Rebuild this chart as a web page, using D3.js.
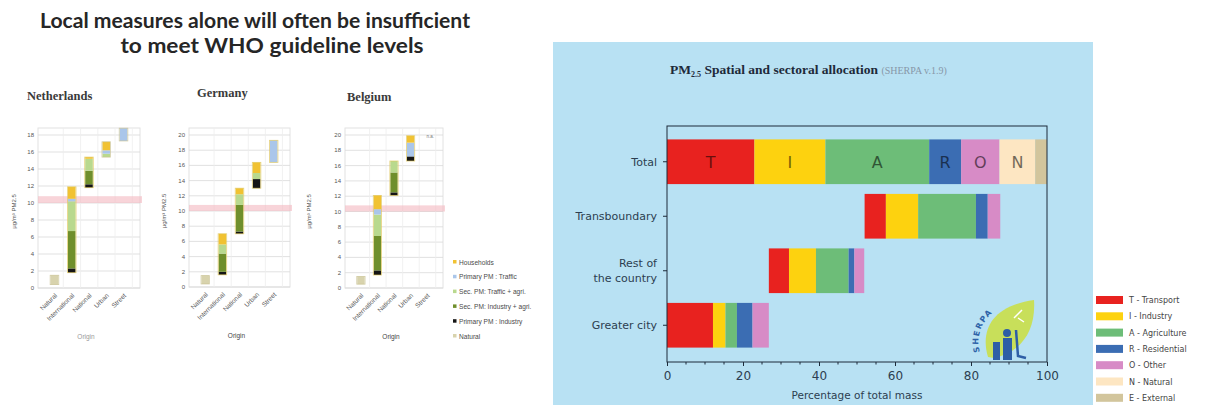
<!DOCTYPE html>
<html>
<head>
<meta charset="utf-8">
<script src="https://cdn.jsdelivr.net/npm/d3@7"></script>
<style>
  body { margin: 0; background: #fff; }
  svg { display: block; }
</style>
</head>
<body>
<svg id="chart" width="1208" height="405"></svg>
<script>
// ---------- left: waterfall charts per country ----------
const origins = ['Natural', 'International', 'National', 'Urban', 'Street'];
const sources = ['Natural', 'Primary PM : Industry', 'Sec. PM: Industry + agri.', 'Sec. PM: Traffic + agri.', 'Primary PM : Traffic', 'Households'];
const sourceColors = ['#d8d3ad', '#151515', '#6f8f2c', '#b9d98e', '#aac6ea', '#f1c232'];
const whoBand = [10, 10.8];

// base of each floating bar, then the pieces by source (same order as sources)
const nlBase = [0.4, 1.8, 11.8, 15.4, 17.3];
const nlParts = [
  [1.1, 0, 0, 0, 0, 0],
  [0, 0.5, 4.4, 3.5, 0.3, 1.4],
  [0, 0.4, 1.6, 1.4, 0, 0.2],
  [0, 0, 0, 0.4, 0.4, 1.0],
  [0, 0, 0, 0, 1.5, 0]
];
const deBase = [0.4, 1.6, 7.0, 13.0, 16.4];
const deParts = [
  [1.1, 0, 0, 0, 0, 0],
  [0, 0.4, 2.4, 1.2, 0, 1.4],
  [0, 0.3, 3.5, 1.4, 0, 0.8],
  [0, 1.2, 0, 0.8, 0, 1.4],
  [0, 0, 0, 0, 2.9, 0]
];
const beBase = [0.5, 1.7, 12.1, 16.6, 19.9];
const beParts = [
  [1.0, 0, 0, 0, 0, 0],
  [0, 0.6, 4.5, 2.8, 0.7, 1.8],
  [0, 0.4, 2.6, 1.5, 0, 0],
  [0, 0.6, 0, 0, 1.8, 0.9],
  [0, 0, 0, 0, 0, 0]
];

// ---------- right: SHERPA allocation ----------
const regions = ['Total', 'Transboundary', 'Rest of the country', 'Greater city'];
const sectors = ['T', 'I', 'A', 'R', 'O', 'N', 'E'];
const sectorNames = ['T - Transport', 'I - Industry', 'A - Agriculture', 'R - Residential', 'O - Other', 'N - Natural', 'E - External'];
const sectorColors = ['#e8221f', '#fdd20f', '#6dbd78', '#3b6db3', '#d78bc6', '#fde6c2', '#d2c59c'];
const regionStart = [0, 52.0, 26.8, 0];
const shareT = [23.0, 5.6, 5.3, 12.1];
const shareI = [18.7, 8.5, 7.1, 3.3];
const shareA = [27.3, 15.2, 8.6, 3.0];
const shareR = [8.4, 3.1, 1.5, 4.1];
const shareO = [10.1, 3.3, 2.6, 4.3];
const shareN = [9.4, 0, 0, 0];
const shareE = [3.1, 0, 0, 0];
const xTicks = [0, 20, 40, 60, 80, 100];

const svg = d3.select('#chart');

// slide title
svg.append('text')
  .attr('x', 255).attr('y', 28)
  .attr('text-anchor', 'middle')
  .attr('font-family', 'Lato, sans-serif').attr('font-weight', 'bold')
  .attr('font-size', 20).attr('fill', '#262626')
  .attr('textLength', 430).attr('lengthAdjust', 'spacingAndGlyphs')
  .text('Local measures alone will often be insufficient');
svg.append('text')
  .attr('x', 272).attr('y', 53)
  .attr('text-anchor', 'middle')
  .attr('font-family', 'Lato, sans-serif').attr('font-weight', 'bold')
  .attr('font-size', 20).attr('fill', '#262626')
  .attr('textLength', 303).attr('lengthAdjust', 'spacingAndGlyphs')
  .text('to meet WHO guideline levels');

function drawCountry(cfg) {
  const g = svg.append('g');
  const y = d3.scaleLinear().domain([0, cfg.ymax]).range([cfg.bottom, cfg.top]);
  const x = d3.scaleBand().domain(origins).range(cfg.xr).padding(0.56);

  g.append('text')
    .attr('x', cfg.titleX).attr('y', cfg.titleY)
    .attr('font-family', 'Liberation Serif, serif').attr('font-weight', 'bold')
    .attr('font-size', 12.5).attr('fill', '#3a3a3a')
    .text(cfg.name);

  // wall + grid
  g.append('rect')
    .attr('x', cfg.xr[0] - 3).attr('y', cfg.top - 7)
    .attr('width', cfg.xr[1] - cfg.xr[0] + 6).attr('height', cfg.bottom - cfg.top + 7)
    .attr('fill', '#fff').attr('stroke', '#e2e2e2');
  const ticks = d3.range(0, cfg.ymax + 0.1, 2);
  g.selectAll('.grid').data(ticks).join('line')
    .attr('x1', cfg.xr[0] - 3).attr('x2', cfg.xr[1] + 3)
    .attr('y1', d => y(d)).attr('y2', d => y(d))
    .attr('stroke', '#d9d9d9').attr('stroke-width', 0.8);
  g.selectAll('.vgrid').data(origins).join('line')
    .attr('x1', d => x(d) + x.bandwidth() + 5).attr('x2', d => x(d) + x.bandwidth() + 5)
    .attr('y1', cfg.top - 7).attr('y2', cfg.bottom)
    .attr('stroke', '#eeeeee').attr('stroke-width', 0.8);

  // WHO guideline band
  g.append('rect')
    .attr('x', cfg.xr[0] - 3).attr('width', cfg.xr[1] - cfg.xr[0] + 8)
    .attr('y', y(whoBand[1])).attr('height', y(whoBand[0]) - y(whoBand[1]))
    .attr('fill', '#f3b8bf').attr('opacity', 0.6);

  // y tick labels
  g.selectAll('.tl').data(ticks).join('text')
    .attr('x', cfg.xr[0] - 7).attr('y', d => y(d) + 2)
    .attr('text-anchor', 'end')
    .attr('font-family', 'Liberation Sans, sans-serif').attr('font-size', 6)
    .attr('fill', '#555').text(d => d);

  g.append('text')
    .attr('transform', `translate(${cfg.yTitleX},${(cfg.top + cfg.bottom) / 2}) rotate(-90)`)
    .attr('text-anchor', 'middle')
    .attr('font-family', 'Liberation Sans, sans-serif').attr('font-size', 6)
    .attr('fill', '#555').text('µg/m³ PM2.5');

  // stacked floating bars
  origins.forEach((o, i) => {
    let acc = cfg.base[i];
    cfg.parts[i].forEach((v, j) => {
      if (v <= 0) return;
      g.append('rect')
        .attr('x', x(o)).attr('width', x.bandwidth())
        .attr('y', y(acc + v)).attr('height', y(acc) - y(acc + v))
        .attr('fill', sourceColors[j]);
      acc += v;
    });
    const total = d3.sum(cfg.parts[i]);
    if (total > 0) {
      g.append('rect')
        .attr('x', x(o) - 0.5).attr('width', x.bandwidth() + 1)
        .attr('y', y(cfg.base[i] + total)).attr('height', y(cfg.base[i]) - y(cfg.base[i] + total))
        .attr('fill', 'none').attr('stroke', total > 2 ? '#e0c75a' : '#c8c090')
        .attr('stroke-width', 0.8).attr('opacity', 0.8);
    }
  });

  // category labels
  g.selectAll('.cl').data(origins).join('text')
    .attr('transform', d => `translate(${x(d) + x.bandwidth() / 2 + 3},${cfg.bottom + 8}) rotate(-45)`)
    .attr('text-anchor', 'end')
    .attr('font-family', 'Liberation Sans, sans-serif').attr('font-size', 6.5)
    .attr('fill', '#555').text(d => d);

  g.append('text')
    .attr('x', (cfg.xr[0] + cfg.xr[1]) / 2 - 3).attr('y', cfg.bottom + 51)
    .attr('text-anchor', 'middle')
    .attr('font-family', 'Liberation Sans, sans-serif').attr('font-size', 6.5)
    .attr('fill', cfg.name === 'Netherlands' ? '#999' : '#444').text('Origin');
  return { g, x, y };
}

drawCountry({ name: 'Netherlands', titleX: 27, titleY: 100, xr: [41, 137], top: 135, bottom: 288, ymax: 18, yTitleX: 16, base: nlBase, parts: nlParts });
drawCountry({ name: 'Germany', titleX: 197, titleY: 97, xr: [192, 287], top: 135, bottom: 287, ymax: 20, yTitleX: 166, base: deBase, parts: deParts });
const be = drawCountry({ name: 'Belgium', titleX: 347, titleY: 101, xr: [348, 440], top: 135, bottom: 288, ymax: 20, yTitleX: 311, base: beBase, parts: beParts });
be.g.append('text')
  .attr('x', be.x('Street') + 3).attr('y', be.y(19.6))
  .attr('font-family', 'Liberation Sans, sans-serif').attr('font-size', 4.5)
  .attr('fill', '#777').text('n.a.');

// legend for the country charts
const lg = svg.append('g').attr('transform', 'translate(453,263)');
sources.slice().reverse().forEach((s, i) => {
  const c = sourceColors[sources.length - 1 - i];
  lg.append('rect').attr('x', 0).attr('y', i * 14.8 - 3).attr('width', 3.5).attr('height', 3.5).attr('fill', c);
  lg.append('text').attr('x', 6).attr('y', i * 14.8 + 1.5)
    .attr('font-family', 'Liberation Sans, sans-serif').attr('font-size', 6.6)
    .attr('fill', '#4a4a4a').text(s);
});

// ---------- right panel ----------
svg.append('rect').attr('x', 553).attr('y', 42).attr('width', 540).attr('height', 363).attr('fill', '#b8e1f3');

const pt = svg.append('text').attr('x', 670).attr('y', 74)
  .attr('font-family', 'Liberation Serif, serif').attr('font-size', 13.5).attr('fill', '#1e2a3a');
pt.append('tspan').attr('font-weight', 'bold').text('PM');
pt.append('tspan').attr('font-weight', 'bold').attr('font-size', 8).attr('dy', 3).text('2.5');
pt.append('tspan').attr('font-weight', 'bold').attr('dy', -3).text(' Spatial and sectoral allocation ');
pt.append('tspan').attr('font-size', 10).attr('fill', '#8797a8').text('(SHERPA v.1.9)');

const xr = d3.scaleLinear().domain([0, 100]).range([667, 1047]);
const yr = d3.scaleBand().domain(regions).range([134.5, 352.5]).paddingInner(0.18).paddingOuter(0.09);
const shares = [shareT, shareI, shareA, shareR, shareO, shareN, shareE];

const bars = svg.append('g');
regions.forEach((r, i) => {
  let acc = regionStart[i];
  sectors.forEach((s, j) => {
    const v = shares[j][i];
    if (v <= 0) return;
    bars.append('rect')
      .attr('x', xr(acc)).attr('width', xr(acc + v) - xr(acc))
      .attr('y', yr(r)).attr('height', yr.bandwidth())
      .attr('fill', sectorColors[j]);
    if (i === 0 && s !== 'E') {
      bars.append('text')
        .attr('x', xr(acc + v / 2)).attr('y', yr(r) + yr.bandwidth() / 2 + 6)
        .attr('text-anchor', 'middle')
        .attr('font-family', 'DejaVu Sans, sans-serif').attr('font-size', 16)
        .attr('fill', '#000').attr('opacity', 0.55).text(s);
    }
    acc += v;
  });
});

// frame + axes
svg.append('rect').attr('x', 667).attr('y', 126).attr('width', 380).attr('height', 236)
  .attr('fill', 'none').attr('stroke', '#1d2b3a').attr('stroke-width', 1);

const xAxis = svg.append('g').attr('transform', 'translate(0,362)')
  .call(d3.axisBottom(xr).tickValues(xTicks).tickSize(4).tickSizeOuter(0));
xAxis.select('.domain').remove();
xAxis.selectAll('line').attr('stroke', '#1d2b3a');
xAxis.selectAll('text').attr('font-family', 'DejaVu Sans, sans-serif').attr('font-size', 12).attr('fill', '#2c3e50').attr('dy', '0.9em');
svg.append('g').selectAll('line').data(d3.range(5, 100, 5).filter(d => d % 20 !== 0)).join('line')
  .attr('x1', d => xr(d)).attr('x2', d => xr(d)).attr('y1', 362).attr('y2', 364.5)
  .attr('stroke', '#1d2b3a');

svg.append('text').attr('x', 857).attr('y', 399).attr('text-anchor', 'middle')
  .attr('font-family', 'DejaVu Sans, sans-serif').attr('font-size', 10.5).attr('fill', '#2c3e50')
  .text('Percentage of total mass');

const yAxis = svg.append('g').attr('transform', 'translate(667,0)')
  .call(d3.axisLeft(yr).tickSize(4).tickSizeOuter(0).tickFormat(''));
yAxis.select('.domain').remove();
yAxis.selectAll('line').attr('stroke', '#1d2b3a');
regions.forEach(r => {
  const cy = yr(r) + yr.bandwidth() / 2;
  const lines = r === 'Rest of the country' ? ['Rest of', 'the country'] : [r];
  lines.forEach((t, k) => {
    svg.append('text')
      .attr('x', 657).attr('y', cy + 4 + (k - (lines.length - 1) / 2) * 15)
      .attr('text-anchor', 'end')
      .attr('font-family', 'DejaVu Sans, sans-serif').attr('font-size', 11).attr('fill', '#2c3e50')
      .text(t);
  });
});

// SHERPA logo (rough)
const logo = svg.append('g');
logo.append('path')
  .attr('d', 'M988,357 C980,330 992,306 1034,300 C1036,330 1022,352 994,358 Z')
  .attr('fill', '#c8df5a');
logo.append('path').attr('id', 'logoArc')
  .attr('d', 'M980,352 C974,332 986,312 1008,304').attr('fill', 'none');
logo.append('text').attr('font-family', 'DejaVu Sans, sans-serif').attr('font-size', 8)
  .attr('font-weight', 'bold').attr('fill', '#2e63a8').attr('letter-spacing', 1.5)
  .append('textPath').attr('href', '#logoArc').text('SHERPA');
logo.append('rect').attr('x', 993).attr('y', 342).attr('width', 7).attr('height', 18).attr('fill', '#2e5ea6');
logo.append('circle').attr('cx', 1007).attr('cy', 333).attr('r', 4).attr('fill', '#2e5ea6');
logo.append('rect').attr('x', 1003).attr('y', 338).attr('width', 9).attr('height', 22).attr('fill', '#2e5ea6');
logo.append('path').attr('d', 'M1016,330 L1018,356 L1026,358').attr('fill', 'none').attr('stroke', '#2e5ea6').attr('stroke-width', 2.5);
logo.append('path').attr('d', 'M1014,318 L1022,310 M1018,318 L1024,322').attr('stroke', '#fff').attr('stroke-width', 1.5);

// sector legend
const sl = svg.append('g').attr('transform', 'translate(1096,300)');
sectorNames.forEach((n, i) => {
  sl.append('rect').attr('x', 0).attr('y', i * 16.3 - 4).attr('width', 27).attr('height', 8).attr('fill', sectorColors[i]);
  sl.append('text').attr('x', 33).attr('y', i * 16.3 + 3)
    .attr('font-family', 'DejaVu Sans, sans-serif').attr('font-size', 8).attr('fill', '#444')
    .text(n);
});
</script>
</body>
</html>
